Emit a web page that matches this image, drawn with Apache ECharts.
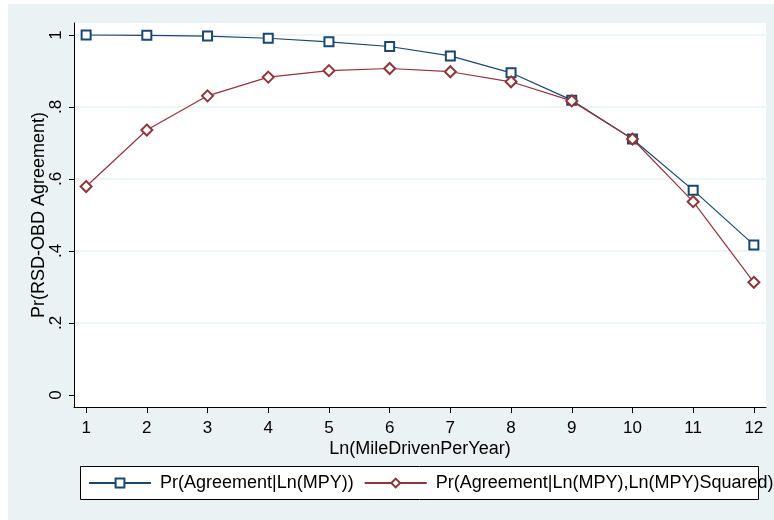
<!DOCTYPE html>
<html>
<head>
<meta charset="utf-8">
<script src="https://cdn.jsdelivr.net/npm/echarts@6/dist/echarts.min.js"></script>
<style>
  html, body { margin: 0; padding: 0; background: #ffffff; }
  #chart { position: absolute; left: 8px; top: 4px; width: 766px; height: 516px; }
</style>
</head>
<body>
<div id="chart"></div>
<script>
// Ln(miles driven per year), 1..12
const lnMilesPerYear = [1, 2, 3, 4, 5, 6, 7, 8, 9, 10, 11, 12];
// Predicted probability of RSD-OBD agreement, linear-in-log model
const prLinear = [1.000, 0.999, 0.997, 0.991, 0.981, 0.968, 0.942, 0.895, 0.819, 0.711, 0.569, 0.417];
// Predicted probability with the squared log term added
const prQuadratic = [0.579, 0.736, 0.831, 0.883, 0.901, 0.907, 0.898, 0.870, 0.817, 0.711, 0.537, 0.313];
// Axis ticks and their printed labels
const xTicks = [1, 2, 3, 4, 5, 6, 7, 8, 9, 10, 11, 12];
const yTicks = [0, 0.2, 0.4, 0.6, 0.8, 1];
const yTickLabels = ['0', '.2', '.4', '.6', '.8', '1'];
const yGridValues = [0.2, 0.4, 0.6, 0.8, 1];

const seriesNames = ['Pr(Agreement|Ln(MPY))', 'Pr(Agreement|Ln(MPY),Ln(MPY)Squared)'];

const FONT = '"Liberation Sans", Arial, sans-serif';
const INK = '#000000';
const BLUE = '#1a476f';
const RED = '#90353b';
const PANEL = '#eaf2f3';

const pairs = (xs, ys) => xs.map((x, i) => [x, ys[i]]);

const chart = echarts.init(document.getElementById('chart'), null, { renderer: 'canvas' });

chart.setOption({
  backgroundColor: PANEL,
  animation: false,
  textStyle: { fontFamily: FONT, color: INK },
  grid: {
    left: 66, top: 19, right: 8, bottom: 113,
    show: true, backgroundColor: '#ffffff', borderWidth: 0
  },
  // legend frame: the key text runs past its right edge
  graphic: [{
    type: 'rect',
    left: 72, top: 462, z: 1,
    shape: { width: 678, height: 33 },
    style: { fill: '#ffffff', stroke: '#000000', lineWidth: 1 }
  }],
  legend: {
    left: 72, top: 462, z: 5,
    width: 760,
    padding: [8, 0, 8, 8],
    itemWidth: 62,
    itemHeight: 11,
    itemGap: 10,
    textStyle: { fontFamily: FONT, fontSize: 18, color: INK, padding: [0, 0, 0, 4] },
    data: seriesNames
  },
  xAxis: {
    type: 'value',
    min: 0.8,
    max: 12.2,
    name: 'Ln(MileDrivenPerYear)',
    nameLocation: 'middle',
    nameGap: 33,
    nameMoveOverlap: false,
    nameTextStyle: { fontFamily: FONT, fontSize: 18, color: INK },
    axisLine: { show: true, onZero: false, lineStyle: { color: INK, width: 1 } },
    axisTick: { show: true, length: 6, customValues: xTicks, lineStyle: { color: INK } },
    axisLabel: { customValues: xTicks, margin: 13, fontSize: 17, color: INK, fontFamily: FONT },
    splitLine: { show: false }
  },
  yAxis: [
    {
      type: 'value',
      min: -1 / 30,
      max: 1 + 1 / 30,
      name: 'Pr(RSD-OBD Agreement)',
      nameLocation: 'middle',
      nameGap: 26,
      nameMoveOverlap: false,
      nameTextStyle: { fontFamily: FONT, fontSize: 18, color: INK },
      axisLine: { show: true, onZero: false, lineStyle: { color: INK, width: 1 } },
      axisTick: { show: true, length: 5, customValues: yTicks, lineStyle: { color: INK } },
      axisLabel: {
        customValues: yTicks,
        rotate: 90,
        margin: 9,
        fontSize: 17,
        color: INK,
        fontFamily: FONT,
        formatter: (v) => {
          const i = yTicks.findIndex(t => Math.abs(t - v) < 1e-9);
          return i >= 0 ? yTickLabels[i] : '';
        }
      },
      splitLine: { show: false }
    },
    {
      // horizontal grid lines only
      type: 'value',
      position: 'left',
      min: -1 / 30,
      max: 1 + 1 / 30,
      axisLine: { show: false },
      axisTick: { show: false, customValues: yGridValues },
      axisLabel: { show: false, customValues: yGridValues },
      splitLine: { show: true, lineStyle: { color: PANEL, width: 1.5 } }
    }
  ],
  series: [
    {
      name: seriesNames[0],
      type: 'line',
      data: pairs(lnMilesPerYear, prLinear),
      symbol: 'emptyRect',
      symbolSize: 9,
      showAllSymbol: true,
      color: BLUE,
      lineStyle: { color: BLUE, width: 1.2 },
      itemStyle: { color: BLUE, borderWidth: 1.4 },
      z: 3
    },
    {
      name: seriesNames[1],
      type: 'line',
      data: pairs(lnMilesPerYear, prQuadratic),
      symbol: 'emptyDiamond',
      symbolSize: 11,
      showAllSymbol: true,
      color: RED,
      lineStyle: { color: RED, width: 1.2 },
      itemStyle: { color: RED, borderWidth: 1.4 },
      z: 4
    }
  ]
});
</script>
</body>
</html>
